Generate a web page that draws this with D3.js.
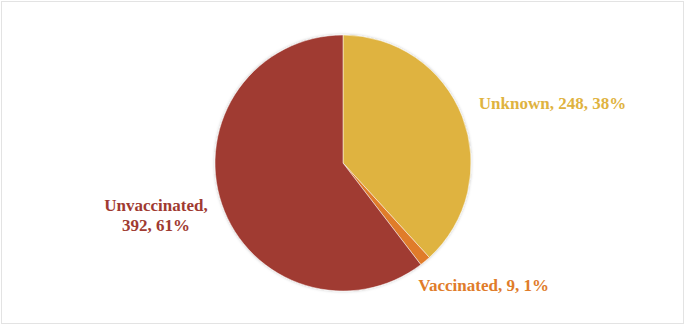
<!DOCTYPE html>
<html>
<head>
<meta charset="utf-8">
<script src="https://cdn.jsdelivr.net/npm/d3@7"></script>
<style>
  html, body { margin: 0; padding: 0; background: #fff; }
  svg { display: block; }
</style>
</head>
<body>
<svg id="chart"></svg>
<script>
// categorias e valores (ordem no sentido horário a partir do topo)
const categories = ["Unknown", "Vaccinated", "Unvaccinated"]
const values = [248, 9, 392]
const percents = ["38%", "1%", "61%"]
const colors = ["#dfb33f", "#e07c2a", "#a03a31"]

const svgWidth = 685
const svgHeight = 325

const svg = d3.select("#chart")
    .attr("width", svgWidth)
    .attr("height", svgHeight)

// moldura
svg.append("rect")
    .attr("x", 1.5).attr("y", 1.5)
    .attr("width", svgWidth - 3).attr("height", svgHeight - 3)
    .attr("fill", "#fff")
    .attr("stroke", "#e3e3e3")

const defs = svg.append("defs")
const shadow = defs.append("filter").attr("id", "sombra")
    .attr("x", "-10%").attr("y", "-10%").attr("width", "120%").attr("height", "120%")
shadow.append("feDropShadow")
    .attr("dx", 0).attr("dy", 0)
    .attr("stdDeviation", 1.5)
    .attr("flood-color", "#000").attr("flood-opacity", 0.25)

const cx = 343, cy = 163, radius = 128

const data = categories.map((c, i) => ({ name: c, value: values[i], pct: percents[i], color: colors[i] }))

const pie = d3.pie().value(d => d.value).sort(null)
const arc = d3.arc().innerRadius(0).outerRadius(radius)
const labelArc = d3.arc().innerRadius(150).outerRadius(150)

const g = svg.append("g").attr("transform", `translate(${cx},${cy})`)

g.append("g").attr("filter", "url(#sombra)")
    .selectAll("path")
    .data(pie(data))
    .enter()
    .append("path")
    .attr("d", arc)
    .attr("fill", d => d.data.color)
    .attr("stroke", "#fff")
    .attr("stroke-width", 0.5)

// ajustes finos dos rótulos
const nudge = {
    Unknown: { dx: -4, dy: -5, anchor: "start", lines: d => [`${d.name}, ${d.value}, ${d.pct}`] },
    Vaccinated: { dx: -21, dy: 7, anchor: "start", lines: d => [`${d.name}, ${d.value}, ${d.pct}`] },
    Unvaccinated: { dx: -45, dy: 4, anchor: "middle", lines: d => [`${d.name},`, `${d.value}, ${d.pct}`] }
}

const labels = g.selectAll("text.lbl")
    .data(pie(data))
    .enter()
    .append("text")
    .attr("class", "lbl")
    .attr("font-family", "'Liberation Serif', 'Times New Roman', serif")
    .attr("font-weight", "bold")
    .attr("font-size", "17px")
    .attr("fill", d => d.data.color)
    .attr("text-anchor", d => nudge[d.data.name].anchor)
    .each(function (d) {
        const [x, y] = labelArc.centroid(d)
        const n = nudge[d.data.name]
        const lines = n.lines(d.data)
        const lh = 20
        const startY = y + n.dy - (lines.length - 1) * lh / 2
        lines.forEach((t, i) => {
            d3.select(this).append("tspan")
                .attr("x", x + n.dx)
                .attr("y", startY + i * lh)
                .attr("dominant-baseline", "central")
                .text(t)
        })
    })
</script>
</body>
</html>
